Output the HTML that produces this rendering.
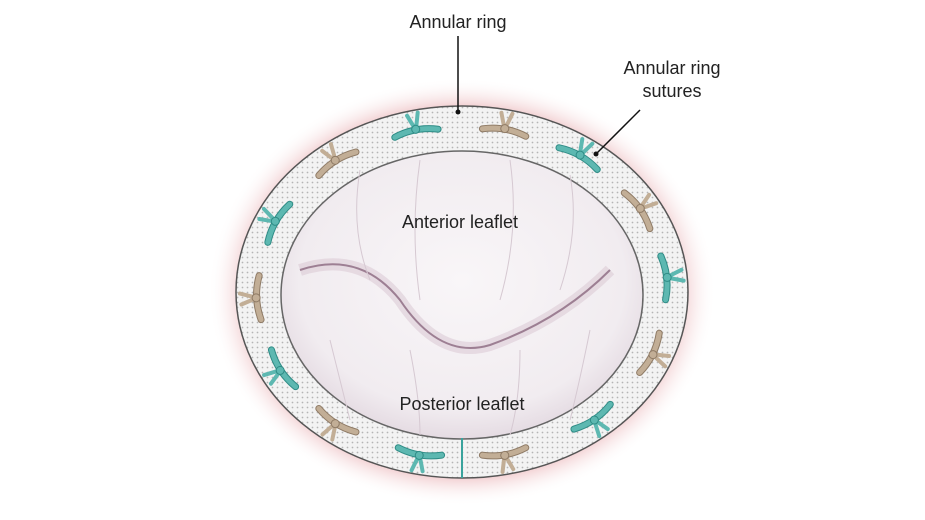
<!DOCTYPE html>
<html><head><meta charset="utf-8"><style>
html,body{margin:0;padding:0;background:#fff;width:925px;height:520px;overflow:hidden}
text{font-family:"Liberation Sans Narrow","Liberation Sans",sans-serif;font-size:18px;fill:#222}
</style></head><body>
<svg id="s" width="925" height="520" viewBox="0 0 925 520" xmlns="http://www.w3.org/2000/svg">
<defs>
<radialGradient id="glow" cx="0.5" cy="0.5" r="0.5">
<stop offset="0.82" stop-color="#e7a9ad"/><stop offset="1" stop-color="#fff" stop-opacity="0"/>
</radialGradient>
<radialGradient id="leaf" cx="0.5" cy="0.45" r="0.6">
<stop offset="0" stop-color="#f9f6f8"/><stop offset="0.75" stop-color="#f1ecf0"/><stop offset="1" stop-color="#dfd3dc"/>
</radialGradient>
<pattern id="dots" width="5" height="5" patternUnits="userSpaceOnUse">
<rect width="5" height="5" fill="#f3f3f3"/><circle cx="2.5" cy="2.5" r="0.9" fill="#b5b5b5"/>
</pattern>
</defs>
<ellipse cx="462" cy="292" rx="254" ry="214" fill="url(#glow)"/>
<ellipse cx="462" cy="292" rx="226" ry="186" fill="url(#dots)" stroke="#555" stroke-width="1.5"/>
<ellipse cx="462" cy="295" rx="181" ry="144" fill="url(#leaf)" stroke="#666" stroke-width="1.5"/>
<path d="M300 270 Q360 250 400 300 Q440 360 490 345 Q560 320 610 270" fill="none" stroke="#dccbd6" stroke-width="12" opacity="0.6"/>
<path d="M300 270 Q360 250 400 300 Q440 360 490 345 Q560 320 610 270" fill="none" stroke="#9d7f93" stroke-width="2"/>
<g stroke="#d6c9d2" stroke-width="1" fill="none">
<path d="M360 170 Q350 230 370 280"/><path d="M420 160 Q410 230 420 300"/><path d="M510 160 Q520 230 500 300"/><path d="M570 175 Q580 230 560 290"/>
<path d="M330 340 Q340 380 350 420"/><path d="M410 350 Q420 400 420 435"/><path d="M520 350 Q520 400 510 435"/><path d="M590 330 Q580 380 570 420"/>
</g>
<line x1="462" y1="438" x2="462" y2="478" stroke="#3aa39d" stroke-width="2"/>
<g id="sut"></g>
<line x1="458" y1="36" x2="458" y2="112" stroke="#111" stroke-width="1.5"/>
<circle cx="458" cy="112" r="2.5" fill="#111"/>
<line x1="640" y1="110" x2="596" y2="154" stroke="#111" stroke-width="1.5"/>
<circle cx="596" cy="154" r="2.5" fill="#111"/>
<text x="458" y="28" text-anchor="middle">Annular ring</text>
<text x="672" y="74" text-anchor="middle">Annular ring</text>
<text x="672" y="97" text-anchor="middle">sutures</text>
<text x="460" y="228" text-anchor="middle">Anterior leaflet</text>
<text x="462" y="410" text-anchor="middle">Posterior leaflet</text>
</svg>
<script>
var g=document.getElementById('sut'),h='';
var angs=[-103,-78,-55,-30,-5,22,50,78,102,128,152,178,205,232];
for(var i=0;i<angs.length;i++){
 var a=angs[i]*Math.PI/180,x=462+205*Math.cos(a),y=292+166*Math.sin(a);
 var tx=-205*Math.sin(a),ty=166*Math.cos(a),rot=Math.atan2(ty,tx)*180/Math.PI;
 var c=i%2==0?'#5db8b1':'#c2ae96',d=i%2==0?'#2f8c86':'#8f7b66';
 h+='<g transform="translate('+x.toFixed(1)+','+y.toFixed(1)+') rotate('+rot.toFixed(1)+')">'+
 '<path d="M-22 3 Q0 -4 22 3" fill="none" stroke="'+d+'" stroke-width="7" stroke-linecap="round"/>'+
 '<path d="M-22 3 Q0 -4 22 3" fill="none" stroke="'+c+'" stroke-width="5" stroke-linecap="round"/>'+
 '<path d="M0 0 L-6 -16 M0 0 L5 -17" stroke="'+c+'" stroke-width="4" stroke-linecap="round"/>'+
 '<circle cx="0" cy="-1" r="4" fill="'+c+'" stroke="'+d+'"/></g>';
}
g.innerHTML=h;
</script>
</body></html>
